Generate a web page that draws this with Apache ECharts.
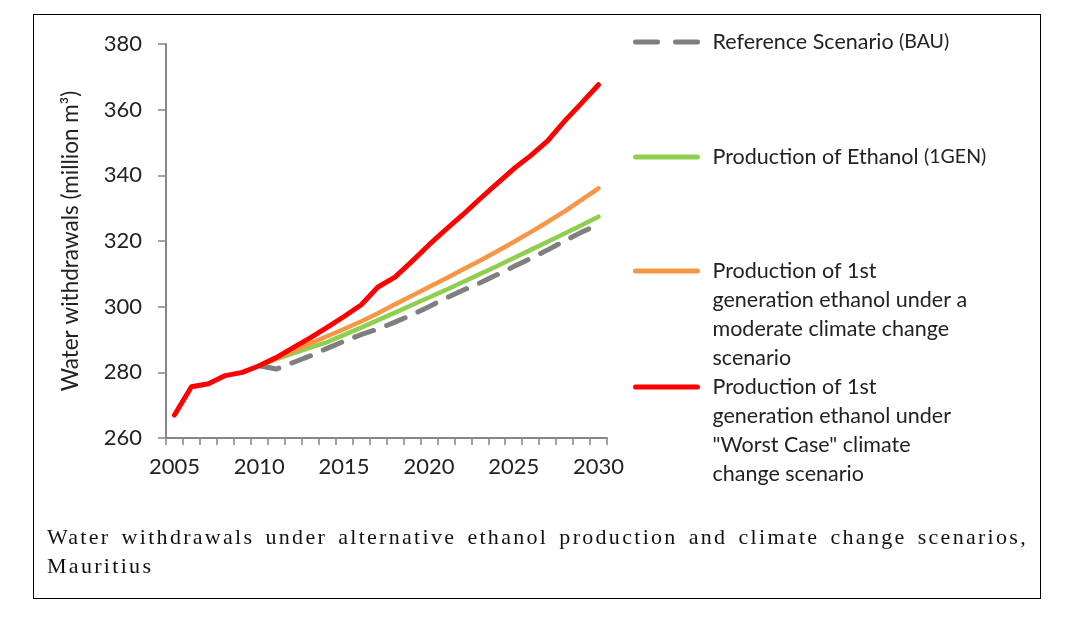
<!DOCTYPE html>
<html>
<head>
<meta charset="utf-8">
<script src="https://cdn.jsdelivr.net/npm/echarts@6/dist/echarts.min.js"></script>
<style>
    html, body { margin: 0; padding: 0; background: #fff; }
    .wrap { position: relative; width: 1065px; height: 620px; }
    #chart { position: absolute; left: 0; top: 0; width: 1065px; height: 620px; }
    .frame {
        position: absolute; left: 33px; top: 14px; width: 1006px; height: 583px;
        border: 1px solid #000; pointer-events: none;
    }
    .caption {
        position: absolute; left: 47px; top: 522px; width: 981px;
        font-family: "Liberation Serif", serif; font-size: 22px; line-height: 29px;
        letter-spacing: 2.3px; color: #111;
        text-align: justify; text-align-last: left;
    }
</style>
</head>
<body>
<div class="wrap">
    <div id="chart"></div>
    <div class="frame"></div>
    <div class="caption">Water withdrawals under alternative ethanol production and climate change scenarios, Mauritius</div>
</div>
<script>
// 年份（x轴）
var years = ['2005', '2006', '2007', '2008', '2009', '2010', '2011', '2012', '2013', '2014', '2015', '2016', '2017',
    '2018', '2019', '2020', '2021', '2022', '2023', '2024', '2025', '2026', '2027', '2028', '2029', '2030'];

// 各情景取水量 (million m3)
var bauData = [null, null, null, null, null, 282, 281, 283, 285, 287.3, 289.5, 291.5, 293.2,
    295.3, 297.5, 300, 302.6, 305, 307.2, 309.7, 312.2, 314.7, 317.3, 320, 322.7, 325];
var gen1Data = [null, null, null, null, null, 282, 284, 285.8, 287.5, 289.2, 291.4, 293.6, 295.9,
    298.2, 300.5, 302.8, 305.1, 307.5, 309.9, 312.3, 314.8, 317.3, 319.8, 322.3, 324.8, 327.4];
var moderateData = [null, null, null, null, null, 282, 284.2, 286.5, 288.8, 291, 293.2, 295.5, 298,
    300.7, 303.3, 306, 308.6, 311.3, 314, 316.8, 319.7, 322.7, 325.8, 329, 332.5, 336];
var worstData = [267, 275.6, 276.5, 279, 280, 282, 284.5, 287.5, 290.5, 293.7, 297, 300.5, 306,
    309, 313.8, 318.8, 323.5, 328, 332.8, 337.4, 342, 346, 350.5, 356.5, 362, 367.6];

var seriesNames = ['Reference Scenario (BAU)', 'Production of Ethanol (1GEN)',
    'Production of 1st generation ethanol under a moderate climate change scenario',
    'Production of 1st generation ethanol under "Worst Case" climate change scenario'];
// 图例里的换行文字
var legendText = ['Reference Scenario {s|(BAU)}', 'Production of Ethanol {s|(1GEN)}',
    'Production of 1st\ngeneration ethanol under a\nmoderate climate change\nscenario',
    'Production of 1st\ngeneration ethanol under\n"Worst Case" climate\nchange scenario'];
var seriesColors = ['#7f7f7f', '#8fcf4f', '#f79646', '#ff0000'];

var font = 'Lato, "Open Sans", sans-serif';
var lineH = 29;

function makeLegend(i, iconY, lines) {
    return {
        data: [seriesNames[i]],
        left: 633,
        // 多行文字：用上 padding 让第一行和图标对齐
        top: iconY - (2 * lines - 1) * lineH / 2,
        padding: 0,
        itemWidth: 62,
        itemHeight: 8,
        selectedMode: false,
        itemStyle: { opacity: 0 },
        lineStyle: {
            color: seriesColors[i],
            width: 5,
            type: i === 0 ? [22, 18] : 'solid',
            cap: 'round'
        },
        formatter: function () { return legendText[i]; },
        textStyle: {
            fontFamily: font,
            fontSize: 21.5,
            color: '#222',
            lineHeight: lineH,
            padding: [(lines - 1) * lineH, 0, 0, 10],
            rich: { s: { fontFamily: font, fontSize: 19.5, color: '#222', lineHeight: lineH } }
        }
    };
}

var myChart = echarts.init(document.getElementById('chart'));
var options = {
    animation: false,
    backgroundColor: '#fff',
    legend: [
        makeLegend(0, 42, 1),
        makeLegend(1, 157, 1),
        makeLegend(2, 271, 4),
        makeLegend(3, 387, 4)
    ],
    grid: {
        left: 166,
        right: 458,
        top: 44,
        bottom: 182
    },
    xAxis: {
        type: 'category',
        data: years,
        boundaryGap: true,
        axisLine: { lineStyle: { color: '#868686', width: 2 } },
        axisTick: { show: true, interval: 0, length: 7, lineStyle: { color: '#868686', width: 1.5 } },
        axisLabel: {
            interval: 4,
            margin: 18,
            fontFamily: font,
            fontSize: 22,
            color: '#222'
        },
        splitLine: { show: false }
    },
    yAxis: {
        type: 'value',
        min: 260,
        max: 380,
        interval: 20,
        name: 'Water withdrawals (million m³)',
        nameLocation: 'middle',
        nameRotate: 90,
        nameGap: 84,
        nameTextStyle: { fontFamily: font, fontSize: 22.5, color: '#222' },
        axisLine: { show: true, lineStyle: { color: '#868686', width: 2 } },
        axisTick: { show: true, length: 8, lineStyle: { color: '#868686', width: 1.5 } },
        axisLabel: {
            margin: 24,
            fontFamily: font,
            fontSize: 22,
            color: '#222'
        },
        splitLine: { show: false }
    },
    series: [{
        name: seriesNames[0],
        type: 'line',
        data: bauData,
        symbol: 'none',
        lineStyle: { color: seriesColors[0], width: 5, type: [20, 14], cap: 'round' },
        itemStyle: { color: seriesColors[0] },
        z: 2
    }, {
        name: seriesNames[1],
        type: 'line',
        data: gen1Data,
        symbol: 'none',
        lineStyle: { color: seriesColors[1], width: 4.5, cap: 'round' },
        itemStyle: { color: seriesColors[1] },
        z: 3
    }, {
        name: seriesNames[2],
        type: 'line',
        data: moderateData,
        symbol: 'none',
        lineStyle: { color: seriesColors[2], width: 4.5, cap: 'round' },
        itemStyle: { color: seriesColors[2] },
        z: 4
    }, {
        name: seriesNames[3],
        type: 'line',
        data: worstData,
        symbol: 'none',
        lineStyle: { color: seriesColors[3], width: 5, cap: 'round', join: 'round' },
        itemStyle: { color: seriesColors[3] },
        z: 5
    }]
};
myChart.setOption(options);
</script>
</body>
</html>
